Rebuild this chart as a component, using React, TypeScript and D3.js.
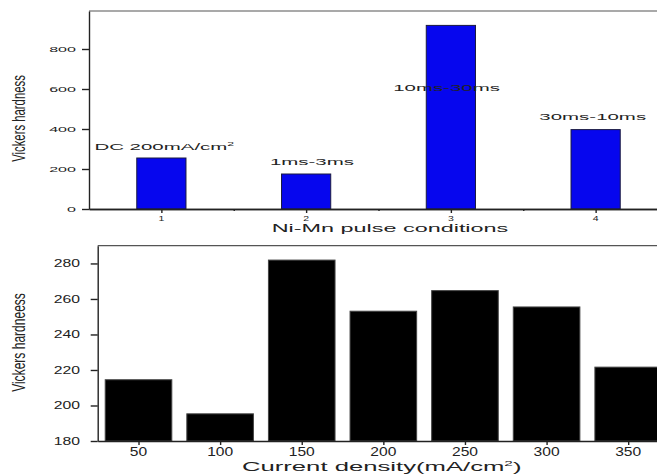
import { useEffect, useRef } from 'react';
import * as d3 from 'd3';

// top panel: Ni-Mn pulse conditions
const pulseConditions = [1, 2, 3, 4];
const pulseHardness = [255, 175, 918, 397];
const pulseLabels = ['DC 200mA/cm', '1ms-3ms', '10ms-30ms', '30ms-10ms'];
const pulseLabelSup = ['2', '', '', ''];
const pulseLabelX = [1.02, 2.04, 2.97, 3.98];
const pulseLabelY = [295, 220, 591, 445];
const pulseYTicks = [0, 200, 400, 600, 800];
const pulseMinorTicks = [1.5, 2.5, 3.5];

// bottom panel: current density
const densities = [50, 100, 150, 200, 250, 300, 350];
const densityHardness = [214.5, 195.3, 281.9, 253.1, 264.7, 255.5, 221.6];
const densityYTicks = [180, 200, 220, 240, 260, 280];

const FONT = '"Liberation Sans", Arial, sans-serif';
const INK = '#222';

export default function App() {
  const svgRef = useRef<SVGSVGElement>(null);

  useEffect(() => {
    const svg = d3.select(svgRef.current);
    svg.selectAll('*').remove();

    // text that is stretched horizontally like the scanned figure
    const label = (x: number, y: number, txt: string, fs: number, sx: number, anchor = 'middle', sup = '') => {
      const t = svg.append('text')
        .attr('transform', `translate(${x},${y}) scale(${sx},1)`)
        .attr('text-anchor', anchor)
        .attr('font-family', FONT)
        .attr('font-size', fs)
        .attr('fill', INK)
        .text(txt);
      if (sup) {
        t.append('tspan')
          .attr('dy', -fs * 0.4)
          .attr('font-size', fs * 0.6)
          .text(sup);
      }
      return t;
    };

    const styleAxis = (g: any) => {
      g.selectAll('path, line').attr('stroke', INK).attr('stroke-width', 1.4);
    };

    // ---------- top panel ----------
    const xTop = d3.scaleLinear().domain([0.5, 4.5]).range([89, 668]);
    const yTop = d3.scaleLinear().domain([0, 990]).range([209, 11]);

    svg.append('line')
      .attr('x1', xTop(0.5)).attr('x2', xTop(4.5))
      .attr('y1', yTop(990)).attr('y2', yTop(990))
      .attr('stroke', '#555').attr('stroke-width', 1.2);

    svg.selectAll('.bar-top')
      .data(pulseConditions)
      .enter()
      .append('rect')
      .attr('class', 'bar-top')
      .attr('x', d => xTop(d - 0.17))
      .attr('width', d => xTop(d + 0.17) - xTop(d - 0.17))
      .attr('y', (d, i) => yTop(pulseHardness[i]))
      .attr('height', (d, i) => yTop(0) - yTop(pulseHardness[i]))
      .attr('fill', '#0606ee')
      .attr('stroke', '#1a1a40')
      .attr('stroke-width', 1);

    svg.append('g')
      .attr('transform', `translate(${xTop(0.5)},0)`)
      .call(d3.axisLeft(yTop).tickValues(pulseYTicks).tickSize(7).tickSizeOuter(0).tickFormat(() => ''))
      .call(styleAxis);

    svg.append('g')
      .attr('transform', `translate(0,${yTop(0)})`)
      .call(d3.axisBottom(xTop).tickValues(pulseConditions).tickSize(4).tickSizeOuter(0).tickFormat(() => ''))
      .call(styleAxis);

    svg.append('g')
      .attr('transform', `translate(0,${yTop(0)})`)
      .call(d3.axisBottom(xTop).tickValues(pulseMinorTicks).tickSize(2).tickSizeOuter(0).tickFormat(() => ''))
      .call(styleAxis);

    pulseYTicks.forEach(v => label(76, yTop(v) + 2.5, String(v), 7, 2.3, 'end'));
    pulseConditions.forEach(c => label(xTop(c), 220.5, String(c), 7, 1.5));

    pulseLabels.forEach((txt, i) =>
      label(xTop(pulseLabelX[i]), yTop(pulseLabelY[i]), txt, 9.3, 2.2, 'middle', pulseLabelSup[i]));

    label(390, 231.5, 'Ni-Mn pulse conditions', 10.4, 2.25);

    svg.append('text')
      .attr('transform', 'translate(25,118.5) rotate(-90) scale(0.81,1.35)')
      .attr('text-anchor', 'middle')
      .attr('font-family', FONT)
      .attr('font-size', 14)
      .attr('fill', INK)
      .text('Vickers hardness');

    // ---------- bottom panel ----------
    const xBot = d3.scaleLinear().domain([25, 375]).range([97.7, 669]);
    const yBot = d3.scaleLinear().domain([180, 290]).range([441, 245.7]);

    svg.append('line')
      .attr('x1', xBot(25)).attr('x2', xBot(375))
      .attr('y1', yBot(290)).attr('y2', yBot(290))
      .attr('stroke', '#555').attr('stroke-width', 1.2);

    svg.selectAll('.bar-bot')
      .data(densities)
      .enter()
      .append('rect')
      .attr('class', 'bar-bot')
      .attr('x', d => xBot(d - 20.4))
      .attr('width', d => xBot(d + 20.4) - xBot(d - 20.4))
      .attr('y', (d, i) => yBot(densityHardness[i]))
      .attr('height', (d, i) => yBot(180) - yBot(densityHardness[i]))
      .attr('fill', '#000')
      .attr('stroke', '#444')
      .attr('stroke-width', 1);

    svg.append('g')
      .attr('transform', `translate(${xBot(25)},0)`)
      .call(d3.axisLeft(yBot).tickValues(densityYTicks).tickSize(7).tickSizeOuter(0).tickFormat(() => ''))
      .call(styleAxis);

    svg.append('g')
      .attr('transform', `translate(0,${yBot(180)})`)
      .call(d3.axisBottom(xBot).tickValues(densities).tickSize(4).tickSizeOuter(0).tickFormat(() => ''))
      .call(styleAxis);

    densityYTicks.forEach(v => label(80, yBot(v) + 3.8, String(v), 10.5, 1.5, 'end'));
    densities.forEach(c => label(xBot(c), 456, String(c), 12, 1.3));

    label(381.7, 471, 'Current density(mA/cm', 12, 2.14, 'middle').call(t => {
      t.append('tspan').attr('dy', -4.8).attr('font-size', 7.2).text('2');
      t.append('tspan').attr('dy', 4.8).text(')');
    });

    svg.append('text')
      .attr('transform', 'translate(25,342.5) rotate(-90) scale(0.86,1.35)')
      .attr('text-anchor', 'middle')
      .attr('font-family', FONT)
      .attr('font-size', 14)
      .attr('fill', INK)
      .text('Vickers hardneess');
  }, []);

  return (
    <svg
      ref={svgRef}
      width={657}
      height={474}
      style={{ position: 'absolute', left: 0, top: 0, background: '#fff', display: 'block' }}
    />
  );
}
